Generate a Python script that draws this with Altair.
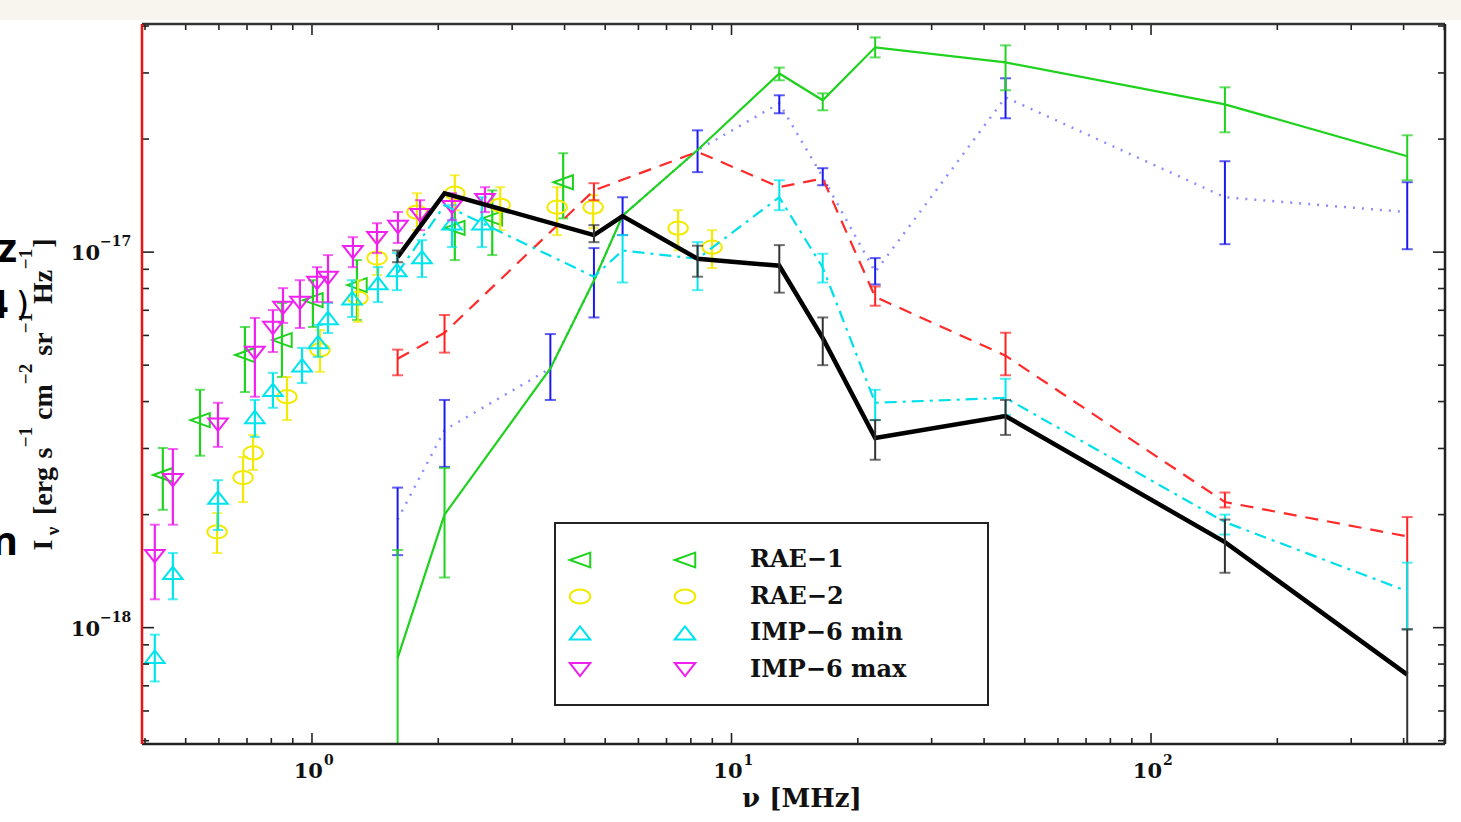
import altair as alt
import pandas as pd

# ---------------------------------------------------------------
# Frequencies in MHz, intensities I_nu in erg s^-1 cm^-2 sr^-1 Hz^-1
# ---------------------------------------------------------------

# Satellite measurements (markers with error bars)
RAE1_F = [0.441, 0.541, 0.692, 0.848, 1.005, 1.28, 2.19, 2.69, 3.97]
RAE1_I = [2.55e-18, 3.57e-18, 5.32e-18, 5.83e-18, 7.45e-18, 8.17e-18, 1.16e-17, 1.23e-17, 1.535e-17]
RAE1_LO = [2.06e-18, 2.87e-18, 4.24e-18, 4.65e-18, 6.32e-18, 6.60e-18, 9.52e-18, 9.82e-18, 1.23e-17]
RAE1_HI = [3.01e-18, 4.30e-18, 6.32e-18, 7.32e-18, 8.42e-18, 9.52e-18, 1.37e-17, 1.46e-17, 1.834e-17]

RAE2_F = [0.594, 0.685, 0.724, 0.872, 1.045, 1.287, 1.429, 1.779, 2.19, 2.81, 3.84, 4.68, 7.46, 8.99]
RAE2_I = [1.80e-18, 2.51e-18, 2.92e-18, 4.12e-18, 5.49e-18, 7.54e-18, 9.64e-18, 1.278e-17, 1.435e-17,
          1.334e-17, 1.317e-17, 1.317e-17, 1.158e-17, 1.031e-17]
RAE2_LO = [1.58e-18, 2.16e-18, 2.63e-18, 3.57e-18, 4.80e-18, 6.52e-18, 8.70e-18, 1.144e-17, 1.293e-17,
           1.144e-17, 1.11e-17, 1.158e-17, 1.012e-17, 9.07e-18]
RAE2_HI = [2.02e-18, 2.85e-18, 3.26e-18, 4.65e-18, 6.20e-18, 8.42e-18, 1.076e-17, 1.435e-17, 1.602e-17,
           1.489e-17, 1.489e-17, 1.418e-17, 1.293e-17, 1.144e-17]

IMPMIN_F = [0.422, 0.466, 0.597, 0.731, 0.807, 0.947, 1.034, 1.092, 1.246, 1.436, 1.594, 1.829, 2.157, 2.542]
IMPMIN_I = [8.37e-19, 1.40e-18, 2.22e-18, 3.64e-18, 4.30e-18, 5.00e-18, 5.76e-18, 6.68e-18, 7.54e-18,
            8.27e-18, 8.96e-18, 9.70e-18, 1.194e-17, 1.194e-17]
IMPMIN_LO = [7.19e-19, 1.19e-18, 1.82e-18, 3.22e-18, 3.85e-18, 4.48e-18, 5.26e-18, 6.09e-18, 6.72e-18,
             7.36e-18, 7.92e-18, 8.58e-18, 1.031e-17, 1.031e-17]
IMPMIN_HI = [9.58e-19, 1.58e-18, 2.47e-18, 4.04e-18, 4.77e-18, 5.56e-18, 6.40e-18, 7.32e-18, 8.42e-18,
             9.12e-18, 9.94e-18, 1.076e-17, 1.334e-17, 1.40e-17]

IMPMAX_F = [0.422, 0.466, 0.597, 0.731, 0.807, 0.853, 0.936, 1.028, 1.092, 1.252, 1.429, 1.603, 1.81, 2.157, 2.585]
IMPMAX_I = [1.55e-18, 2.47e-18, 3.47e-18, 5.39e-18, 6.28e-18, 7.10e-18, 7.32e-18, 8.27e-18, 8.53e-18,
            1.0e-17, 1.089e-17, 1.166e-17, 1.254e-17, 1.317e-17, 1.375e-17]
IMPMAX_LO = [1.19e-18, 1.88e-18, 3.03e-18, 4.12e-18, 5.42e-18, 6.48e-18, 6.28e-18, 7.36e-18, 7.36e-18,
             9.12e-18, 9.94e-18, 1.057e-17, 1.144e-17, 1.216e-17, 1.278e-17]
IMPMAX_HI = [1.88e-18, 2.99e-18, 3.97e-18, 6.68e-18, 7.01e-18, 8.02e-18, 8.42e-18, 9.12e-18, 9.82e-18,
             1.096e-17, 1.194e-17, 1.278e-17, 1.375e-17, 1.435e-17, 1.489e-17]

# Model spectra sampled on a common frequency grid (None = no value there)
MODEL_F = [1.6, 2.07, 3.7, 4.7, 5.5, 8.3, 13, 16.5, 22, 45, 150, 408]

GREEN_I = [8.3e-19, 2.0e-18, 4.9e-18, 8.4e-18, 1.25e-17, 1.87e-17, 2.99e-17, 2.537e-17, 3.51e-17, 3.2e-17, 2.475e-17, 1.8e-17]
GREEN_LO = [4.5e-19, 1.36e-18, None, None, None, None, 2.867e-17, 2.386e-17, 3.30e-17, 2.698e-17, 2.085e-17, 1.554e-17]
GREEN_HI = [1.61e-18, 2.66e-18, None, None, None, None, 3.10e-17, 2.647e-17, 3.73e-17, 3.553e-17, 2.747e-17, 2.047e-17]

BLUE_I = [1.94e-18, 3.36e-18, 4.9e-18, 8.4e-18, 1.25e-17, 1.87e-17, 2.49e-17, 1.583e-17, 8.85e-18, 2.584e-17, 1.4e-17, 1.278e-17]
BLUE_LO = [1.56e-18, 2.68e-18, 4.04e-18, 6.7e-18, 1.11e-17, 1.633e-17, 2.343e-17, 1.507e-17, 8.2e-18, 2.272e-17, 1.05e-17, 1.018e-17]
BLUE_HI = [2.36e-18, 4.04e-18, 6.05e-18, 1.025e-17, 1.4e-17, 2.11e-17, 2.616e-17, 1.673e-17, 9.64e-18, 2.903e-17, 1.746e-17, 1.535e-17]

RED_I = [5.2e-18, 6.1e-18, None, 1.46e-17, None, 1.85e-17, 1.49e-17, 1.57e-17, 7.6e-18, 5.3e-18, 2.16e-18, 1.75e-18]
RED_LO = [4.7e-18, 5.4e-18, None, 1.375e-17, None, None, None, None, 7.2e-18, 4.7e-18, 2.09e-18, 9.9e-19]
RED_HI = [5.5e-18, 6.8e-18, None, 1.526e-17, None, None, None, None, 8.1e-18, 6.1e-18, 2.29e-18, 1.97e-18]

CYAN_I = [8.8e-18, 1.334e-17, None, 8.6e-18, 1.01e-17, 9.6e-18, 1.4e-17, 9.1e-18, 3.97e-18, 4.09e-18, 1.91e-18, 1.25e-18]
CYAN_LO = [None, None, None, None, 8.3e-18, 7.92e-18, 1.293e-17, 8.3e-18, 3.57e-18, 3.68e-18, 1.77e-18, 9.9e-19]
CYAN_HI = [None, None, None, None, 1.11e-17, 1.063e-17, 1.554e-17, 9.9e-18, 4.3e-18, 4.6e-18, 2.0e-18, 1.49e-18]

BLACK_I = [9.7e-18, 1.435e-17, None, 1.11e-17, 1.247e-17, 9.6e-18, 9.2e-18, 5.9e-18, 3.2e-18, 3.66e-18, 1.69e-18, 7.5e-19]
BLACK_LO = [9.4e-18, None, None, 1.063e-17, None, 8.6e-18, 7.8e-18, 5.0e-18, 2.8e-18, 3.26e-18, 1.4e-18, 4.5e-19]
BLACK_HI = [1.01e-17, None, None, 1.18e-17, None, 1.04e-17, 1.044e-17, 6.7e-18, 3.57e-18, 4.04e-18, 1.94e-18, 9.9e-19]

# Legend entries
LEGEND_NAMES = ["RAE\u22121", "RAE\u22122", "IMP\u22126 min", "IMP\u22126 max"]
LEGEND_COLORS = ["#1ed21e", "#f2ea00", "#00e4ee", "#f020f0"]

# Marker outlines (wide, flattened symbols)
TRI_LEFT = "M -1 0 L 1 -0.72 L 1 0.72 Z"
ELLIPSE = "M -1 0 A 1 0.68 0 1 0 1 0 A 1 0.68 0 1 0 -1 0 Z"
TRI_UP = "M 0 -0.64 L 1 0.64 L -1 0.64 Z"
TRI_DOWN = "M -1 -0.64 L 1 -0.64 L 0 0.64 Z"
LEGEND_SHAPES = [TRI_LEFT, ELLIPSE, TRI_UP, TRI_DOWN]

# Axis ticks and labels
X_MAJOR = [1, 10, 100]
X_EXP = ["0", "1", "2"]
X_MINOR = [0.4, 0.5, 0.6, 0.7, 0.8, 0.9, 2, 3, 4, 5, 6, 7, 8, 9,
           20, 30, 40, 50, 60, 70, 80, 90, 200, 300, 400, 500]
Y_MAJOR = [1e-18, 1e-17]
Y_EXP = ["\u221218", "\u221217"]
Y_MINOR = [5e-19, 6e-19, 7e-19, 8e-19, 9e-19, 2e-18, 3e-18, 4e-18, 5e-18, 6e-18, 7e-18, 8e-18, 9e-18,
           2e-17, 3e-17, 4e-17]

# y-axis title pieces: text, position along the axis (px), baseline (px), font size
Y_TITLE_TEXT = ["I", "\u03bd", "[erg", "s", "\u22121", "cm", "\u22122", "sr", "\u22121", "Hz", "\u22121", "]"]
Y_TITLE_POS = [521, 507, 467, 429, 413, 378, 350, 320, 299, 263, 235, 219]
Y_TITLE_BASE = [-90, -83, -90, -90, -110, -90, -110, -90, -110, -90, -110, -90]
Y_TITLE_SIZE = [28, 19, 28, 28, 19, 28, 19, 28, 19, 28, 19, 28]

# ---------------------------------------------------------------
W, H = 1303, 720
SERIF = "DejaVu Serif"
TIMES = "Liberation Serif"
INK = "#111111"

x_scale = alt.Scale(type="log", domain=[0.3934, 502])
y_scale = alt.Scale(type="log", domain=[4.9e-19, 4.05e-17])


def X(field="f"):
    return alt.X(f"{field}:Q", scale=x_scale, axis=None)


def Y(field="I"):
    return alt.Y(f"{field}:Q", scale=y_scale, axis=None)


def table(f, i, lo, hi):
    rows = []
    for a, b, c, d in zip(f, i, lo, hi):
        if b is None:
            continue
        rows.append({"f": a, "I": b, "lo": c, "hi": d})
    return pd.DataFrame(rows)


def bars(df, color, width=2.0, cap=11):
    d = df.dropna(subset=["lo", "hi"])
    rule = alt.Chart(d).mark_rule(color=color, strokeWidth=width, clip=True).encode(
        x=X(), y=Y("lo"), y2="hi:Q")
    lo_cap = alt.Chart(d).mark_tick(color=color, orient="horizontal", size=cap, thickness=2,
                                    clip=True).encode(x=X(), y=Y("lo"))
    hi_cap = alt.Chart(d).mark_tick(color=color, orient="horizontal", size=cap, thickness=2,
                                    clip=True).encode(x=X(), y=Y("hi"))
    return [rule, lo_cap, hi_cap]


def model(i, lo, hi, line_color, bar_color, dash=None, width=2.0):
    df = table(MODEL_F, i, lo, hi)
    kw = dict(color=line_color, strokeWidth=width, clip=True)
    if dash:
        kw["strokeDash"] = dash
    line = alt.Chart(df).mark_line(**kw).encode(x=X(), y=Y())
    return [line] + bars(df, bar_color)


def measured(f, i, lo, hi, color, shape, size=380):
    df = table(f, i, lo, hi)
    pts = alt.Chart(df).mark_point(shape=shape, filled=False, color=color, size=size,
                                   strokeWidth=2, opacity=1, clip=True).encode(x=X(), y=Y())
    return bars(df, color, width=2.2, cap=10) + [pts]


layers = []
one = pd.DataFrame({"k": [0]})

# light strip along the top of the page
layers.append(alt.Chart(one).mark_rect(color="#f7f5ee").encode(
    x=alt.value(-142), x2=alt.value(W + 16), y=alt.value(-24), y2=alt.value(-4)))

# measurements
layers += measured(RAE1_F, RAE1_I, RAE1_LO, RAE1_HI, LEGEND_COLORS[0], TRI_LEFT)
layers += measured(RAE2_F, RAE2_I, RAE2_LO, RAE2_HI, LEGEND_COLORS[1], ELLIPSE)
layers += measured(IMPMIN_F, IMPMIN_I, IMPMIN_LO, IMPMIN_HI, LEGEND_COLORS[2], TRI_UP)
layers += measured(IMPMAX_F, IMPMAX_I, IMPMAX_LO, IMPMAX_HI, LEGEND_COLORS[3], TRI_DOWN)

# model spectra
layers += model(BLUE_I, BLUE_LO, BLUE_HI, "#8d8dff", "#1a1af0", dash=[2, 7], width=2.5)
layers += model(GREEN_I, GREEN_LO, GREEN_HI, "#1ed21e", "#1ed21e", width=2.2)
layers += model(RED_I, RED_LO, RED_HI, "#ff2a2a", "#ff2020", dash=[13, 9], width=2.2)
layers += model(CYAN_I, CYAN_LO, CYAN_HI, "#00e0ea", "#00e6ee", dash=[12, 6, 3, 6], width=2.2)
layers += model(BLACK_I, BLACK_LO, BLACK_HI, "#000000", "#333333", width=4.5)

# inward ticks on all four sides
for xs, ys, lx, ly in ((X_MAJOR, Y_MAJOR, 11, 12), (X_MINOR, Y_MINOR, 6, 7)):
    dx = pd.DataFrame({"f": xs})
    dy = pd.DataFrame({"I": ys})
    layers.append(alt.Chart(dx).mark_rule(color="#222", strokeWidth=1.6).encode(
        x=X(), y=alt.value(H), y2=alt.value(H - lx)))
    layers.append(alt.Chart(dx).mark_rule(color="#222", strokeWidth=1.6).encode(
        x=X(), y=alt.value(0), y2=alt.value(lx)))
    layers.append(alt.Chart(dy).mark_rule(color="#222", strokeWidth=1.6).encode(
        y=Y(), x=alt.value(0), x2=alt.value(ly)))
    layers.append(alt.Chart(dy).mark_rule(color="#222", strokeWidth=1.6).encode(
        y=Y(), x=alt.value(W - ly), x2=alt.value(W)))

# frame
layers.append(alt.Chart(one).mark_rule(color="#333", strokeWidth=2.5).encode(
    x=alt.value(0), x2=alt.value(W), y=alt.value(0)))
layers.append(alt.Chart(one).mark_rule(color="#222", strokeWidth=2.5).encode(
    x=alt.value(0), x2=alt.value(W), y=alt.value(H)))
layers.append(alt.Chart(one).mark_rule(color="#222", strokeWidth=2.5).encode(
    x=alt.value(W), y=alt.value(0), y2=alt.value(H)))
layers.append(alt.Chart(one).mark_rule(color="#ee1111", strokeWidth=2.5).encode(
    x=alt.value(0), y=alt.value(0), y2=alt.value(H)))

# tick labels: "10" with a raised exponent
xl = pd.DataFrame({"f": X_MAJOR, "e": X_EXP})
layers.append(alt.Chart(xl).mark_text(font=SERIF, fontSize=21, fontWeight="bold", color=INK,
                                      align="right", baseline="alphabetic", dx=11, text="10").encode(
    x=X(), y=alt.value(H + 34)))
layers.append(alt.Chart(xl).mark_text(font=SERIF, fontSize=14, fontWeight="bold", color=INK,
                                      align="left", baseline="alphabetic", dx=12).encode(
    x=X(), y=alt.value(H + 21), text="e:N"))
yl = pd.DataFrame({"I": Y_MAJOR, "e": Y_EXP})
layers.append(alt.Chart(yl).mark_text(font=SERIF, fontSize=21, fontWeight="bold", color=INK,
                                      align="right", baseline="alphabetic", dy=8, text="10").encode(
    y=Y(), x=alt.value(-42)))
layers.append(alt.Chart(yl).mark_text(font=SERIF, fontSize=14, fontWeight="bold", color=INK,
                                      align="left", baseline="alphabetic", dy=-6).encode(
    y=Y(), x=alt.value(-42), text="e:N"))

# axis titles
layers.append(alt.Chart(one).mark_text(font=SERIF, fontSize=26, fontWeight="bold", color=INK,
                                       align="center", baseline="alphabetic",
                                       text="\u03bd [MHz]").encode(
    x=alt.value(660), y=alt.value(H + 63)))
yt = pd.DataFrame({"t": Y_TITLE_TEXT, "py": Y_TITLE_POS, "px": Y_TITLE_BASE, "fs": Y_TITLE_SIZE})
layers.append(alt.Chart(yt).mark_text(font=TIMES, fontWeight="bold", color=INK, angle=270,
                                      align="center", baseline="alphabetic").encode(
    x=alt.X("px:Q", scale=None), y=alt.Y("py:Q", scale=None), text="t:N",
    size=alt.Size("fs:Q", scale=None)))

# legend box
layers.append(alt.Chart(one).mark_rect(fill="white", stroke="#222", strokeWidth=2).encode(
    x=alt.value(413), x2=alt.value(846), y=alt.value(499), y2=alt.value(681)))
leg = pd.DataFrame({
    "name": LEGEND_NAMES, "shape": LEGEND_SHAPES, "color": LEGEND_COLORS,
    "py": [536 + 36.5 * k for k in range(4)],
})
for px in (438, 543):
    layers.append(alt.Chart(leg).mark_point(filled=False, size=420, strokeWidth=2, opacity=1).encode(
        x=alt.value(px), y=alt.Y("py:Q", scale=None),
        shape=alt.Shape("shape:N", scale=None), color=alt.Color("color:N", scale=None)))
layers.append(alt.Chart(leg).mark_text(font=SERIF, fontSize=24, fontWeight="bold", color=INK,
                                       align="left", baseline="middle").encode(
    x=alt.value(608), y=alt.Y("py:Q", scale=None), text="name:N"))

# fragments of neighbouring text at the left page edge
frag = pd.DataFrame({"t": ["z", "n", "4"], "px": [-125, -124, -134], "py": [238, 531, 294]})
layers.append(alt.Chart(frag).mark_text(font="Open Sans", fontWeight="bold", color="#000",
                                        align="right", baseline="alphabetic", fontSize=40).encode(
    x=alt.X("px:Q", scale=None), y=alt.Y("py:Q", scale=None), text="t:N"))
layers.append(alt.Chart(one).mark_text(font="DejaVu Sans", fontSize=34, color="#000", align="left",
                                       baseline="alphabetic", text=")").encode(
    x=alt.value(-126), y=alt.value(292)))

chart = alt.layer(*layers).properties(
    width=W, height=H,
    autosize=alt.AutoSizeParams(type="none"),
    padding={"left": 142, "top": 24, "right": 16, "bottom": 78},
).configure_view(stroke=None).configure(background="white")

chart.save("out.html", embed_options={"renderer": "svg", "actions": False})
